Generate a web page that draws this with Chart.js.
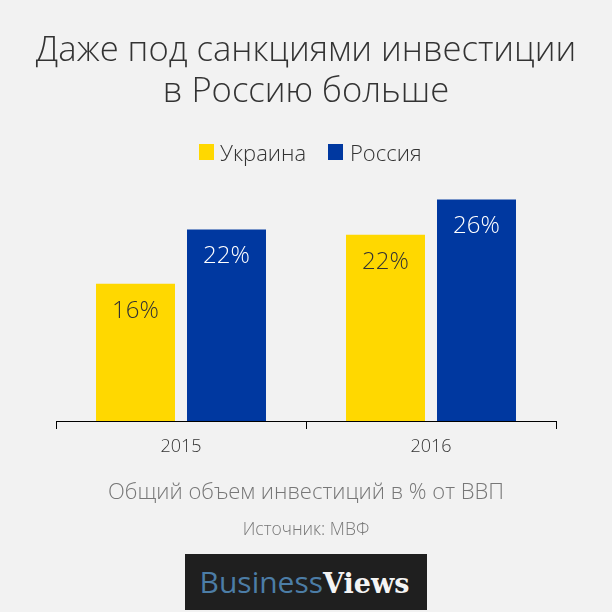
<!DOCTYPE html>
<html>
<head>
<meta charset="utf-8">
<script src="https://cdn.jsdelivr.net/npm/chart.js@4"></script>
<style>
html, body { margin: 0; padding: 0; background: #f2f2f2; }
#wrap { position: relative; width: 612px; height: 612px; overflow: hidden; }
#legend { position: absolute; left: 0; top: 138px; width: 612px; height: 28px; }
#legend span { position: absolute; top: 0; line-height: 28px; font: 300 22px/28px "Open Sans", "Noto Sans", sans-serif; color: #333333; white-space: nowrap; }
#legend i { position: absolute; top: 6px; width: 15px; height: 16px; }
#logo { position: absolute; left: 185px; top: 554px; width: 239px; height: 56px; padding-right: 3px; background: #1f1f1f;
  line-height: 56px; text-align: center; font-size: 30px; white-space: nowrap; }
#logo .a { color: #4c7da6; font-family: "Open Sans", sans-serif; }
#logo .b { color: #f4f4f4; font-family: "DejaVu Serif", serif; font-weight: bold; font-size: 27px; }
</style>
</head>
<body>
<div id="wrap">
<canvas id="investChart" width="612" height="612"></canvas>
<div id="legend"></div>
<div id="logo"><span class="a">Business</span><span class="b">Views</span></div>
</div>
<script>
const years = ['2015', '2016'];
const ukraine = [16, 21.7];
const russia = [22.3, 25.8];
const titleLines = ['Даже под санкциями инвестиции', 'в Россию больше'];
const axisNote = 'Общий объем инвестиций в % от ВВП';
const source = 'Источник: МВФ';

const family = '"Open Sans", "Noto Sans", sans-serif';

// the side padding would squeeze the long title line, let it use the full width
const wideTitle = {
    id: 'wide_title',
    afterLayout: (chart) => {
        chart.titleBlock.left = 0;
        chart.titleBlock.right = chart.width;
    }
};

// percent labels inside the bars
const barLabels = {
    id: 'bar_labels',
    afterDatasetsDraw: (chart) => {
        const ctx = chart.ctx;
        ctx.save();
        ctx.font = '300 24px ' + family;
        ctx.textAlign = 'center';
        ctx.textBaseline = 'middle';
        chart.data.datasets.forEach((ds, i) => {
            ctx.fillStyle = i === 0 ? '#333333' : '#ffffff';
            chart.getDatasetMeta(i).data.forEach((bar, j) => {
                ctx.fillText(Math.round(ds.data[j]) + '%', bar.x, bar.y + 27);
            });
        });
        ctx.restore();
    }
};

const investChart = new Chart(document.getElementById('investChart').getContext('2d'), {
    type: 'bar',
    data: {
        labels: years,
        datasets: [
            { label: 'Украина', data: ukraine, backgroundColor: '#ffd800' },
            { label: 'Россия', data: russia, backgroundColor: '#0038a0' }
        ]
    },
    options: {
        responsive: false,
        animation: false,
        categoryPercentage: 0.728,
        barPercentage: 0.868,
        layout: { padding: { left: 56, right: 56, top: 30, bottom: 71 } },
        plugins: {
            tooltip: { enabled: false },
            legend: { display: false },
            title: {
                display: true,
                text: titleLines,
                color: '#333333',
                font: { family: family, size: 34.6, weight: '300', lineHeight: 1.2 },
                padding: { top: 0, bottom: 50.5 }
            },
            subtitle: {
                display: true,
                position: 'bottom',
                text: source,
                color: '#777777',
                font: { family: family, size: 17.5, weight: '300' },
                padding: { top: 14, bottom: 0 }
            }
        },
        scales: {
            x: {
                border: { color: '#000000', width: 1 },
                grid: { display: true, offset: true, drawOnChartArea: false, drawTicks: true, tickLength: 8, color: '#000000' },
                ticks: { color: '#333333', font: { family: family, size: 18, weight: '300' }, padding: 7, maxRotation: 0 },
                title: {
                    display: true,
                    text: axisNote,
                    color: '#777777',
                    font: { family: family, size: 22, weight: '300' },
                    padding: { top: 15, bottom: 0 }
                }
            },
            y: { display: false, min: 0, max: 30 }
        }
    },
    plugins: [wideTitle, barLabels]
});

// legend built from the datasets
const legendLeft = [199, 328];
const legendGap = [21, 22];
investChart.data.datasets.forEach((ds, i) => {
    const box = document.createElement('i');
    box.style.left = legendLeft[i] + 'px';
    box.style.background = ds.backgroundColor;
    const txt = document.createElement('span');
    txt.style.left = (legendLeft[i] + legendGap[i]) + 'px';
    txt.textContent = ds.label;
    document.getElementById('legend').append(box, txt);
});
</script>
</body>
</html>
